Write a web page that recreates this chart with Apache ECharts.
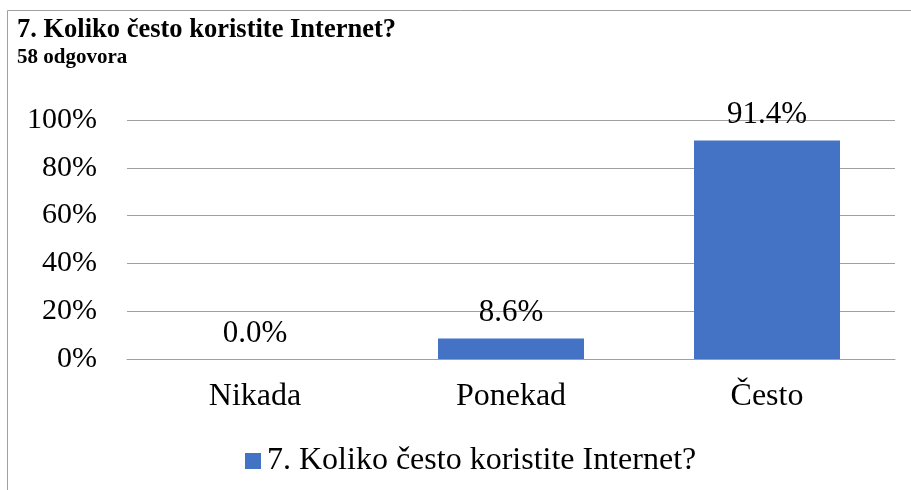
<!DOCTYPE html>
<html>
<head>
<meta charset="utf-8">
<script src="https://cdn.jsdelivr.net/npm/echarts@6/dist/echarts.min.js"></script>
<style>
  html, body { margin: 0; padding: 0; background: #fff; }
  #myChart { width: 911px; height: 490px; }
</style>
</head>
<body>
<div id="myChart"></div>
<script>
// podaci
const categories = ['Nikada', 'Ponekad', 'Često']
const values = [0.0, 8.6, 91.4]
const seriesName = '7. Koliko često koristite Internet?'
const titleText = '7. Koliko često koristite Internet?'
const subText = '58 odgovora'

const serif = '"Liberation Serif", "Times New Roman", serif'

let myChart = echarts.init(document.getElementById('myChart'))
myChart.setOption({
  animation: false,
  textStyle: { fontFamily: serif, color: '#000' },
  title: {
    text: titleText,
    subtext: subText,
    left: 12,
    top: 12,
    itemGap: 3,
    textStyle: { fontFamily: serif, fontSize: 26.5, fontWeight: 'bold', color: '#000' },
    subtextStyle: { fontFamily: serif, fontSize: 21, fontWeight: 'bold', color: '#000' }
  },
  graphic: [
    {
      type: 'rect',
      shape: { x: 7.5, y: 10.5, width: 920, height: 500 },
      style: { fill: 'none', stroke: '#a0a0a0', lineWidth: 1 },
      silent: true
    }
  ],
  grid: { left: 127, right: 16, top: 120, bottom: 131 },
  legend: {
    data: [seriesName],
    bottom: 8,
    left: 240,
    itemWidth: 16,
    itemHeight: 16,
    itemGap: 8,
    icon: 'rect',
    textStyle: { fontFamily: serif, fontSize: 32, color: '#000', padding: [0, 0, 0, 1] }
  },
  xAxis: {
    type: 'category',
    data: categories,
    axisTick: { show: false },
    axisLine: { lineStyle: { color: '#a0a0a0' } },
    axisLabel: { fontFamily: serif, fontSize: 32, color: '#000', margin: 22 }
  },
  yAxis: {
    type: 'value',
    min: 0,
    max: 100,
    interval: 20,
    axisLabel: { formatter: '{value}%', fontFamily: serif, fontSize: 30, color: '#000', margin: 30 },
    splitLine: { lineStyle: { color: '#a0a0a0' } }
  },
  series: [
    {
      name: seriesName,
      type: 'bar',
      data: values,
      barWidth: 146,
      itemStyle: { color: '#4472C4' },
      label: {
        show: true,
        position: 'top',
        distance: 10,
        formatter: p => p.value.toFixed(1) + '%',
        fontFamily: serif,
        fontSize: 31,
        color: '#000'
      }
    }
  ]
})
</script>
</body>
</html>
